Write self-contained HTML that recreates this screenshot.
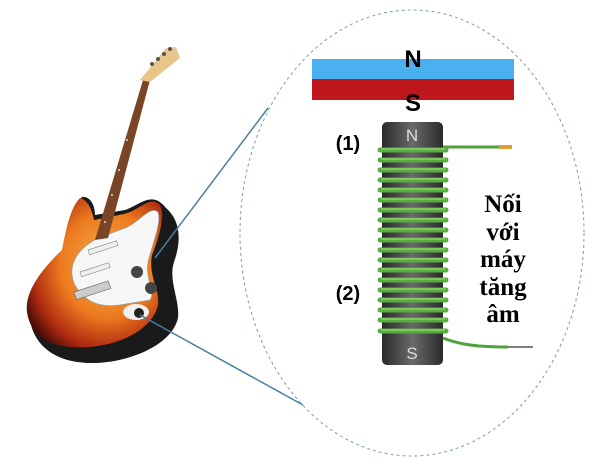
<!DOCTYPE html>
<html><head><meta charset="utf-8"><style>
body{margin:0;background:#fff;width:604px;height:468px;overflow:hidden}
</style></head><body>
<svg width="604" height="468" viewBox="0 0 604 468" xmlns="http://www.w3.org/2000/svg">
<defs>
<radialGradient id="burst" cx="0.6" cy="0.45" r="0.7">
<stop offset="0" stop-color="#f7b24a"/><stop offset="0.5" stop-color="#ec7a1f"/><stop offset="0.8" stop-color="#b02a10"/><stop offset="1" stop-color="#3a0a05"/>
</radialGradient>
<linearGradient id="core" x1="0" x2="1"><stop offset="0" stop-color="#2a2a2a"/><stop offset="0.5" stop-color="#6a6a6a"/><stop offset="1" stop-color="#2a2a2a"/></linearGradient>
</defs>
<ellipse cx="412" cy="233" rx="172" ry="223" fill="none" stroke="#7a9cb0" stroke-width="1" stroke-dasharray="3,3"/>
<path d="M30 320 C26 295 50 270 66 255 C70 232 72 210 82 197 C90 196 95 205 95 215 L125 210 C140 205 152 190 166 208 C180 220 182 240 174 262 C168 280 180 300 178 318 C172 345 130 362 95 363 C55 364 34 345 30 320Z" fill="#1a1a1a"/>
<path d="M27 312 C24 290 46 265 62 250 C66 230 70 208 80 198 C88 200 92 210 94 220 L124 214 C140 210 150 195 160 205 C165 215 160 235 152 255 C148 275 160 290 158 305 C152 330 120 345 88 347 C50 350 30 335 27 312Z" fill="url(#burst)"/>
<path d="M72 275 C70 258 84 245 98 238 L125 228 C140 222 150 205 158 212 C162 222 152 245 148 262 C145 280 156 292 150 300 L120 305 C100 308 88 302 80 292 C75 287 73 282 72 275Z" fill="#f6f6f6" stroke="#999" stroke-width="0.7"/>
<rect x="74" y="292" width="36" height="8" fill="#ccc" stroke="#666" stroke-width="0.6" transform="rotate(-18 74 292)"/>
<rect x="88" y="250" width="30" height="5" fill="#eee" stroke="#888" stroke-width="0.6" transform="rotate(-18 88 250)"/>
<rect x="80" y="272" width="30" height="5" fill="#eee" stroke="#888" stroke-width="0.6" transform="rotate(-18 80 272)"/>
<circle cx="137" cy="272" r="6" fill="#444"/><circle cx="151" cy="288" r="6" fill="#444"/>
<ellipse cx="136" cy="312" rx="13" ry="8" fill="#f0f0f0"/><circle cx="139" cy="313" r="5" fill="#222"/>
<polygon points="95,240 108,238 150,80 143,80" fill="#7a4526"/>
<g fill="#ddd"><circle cx="105" cy="222" r="1"/><circle cx="112" cy="195" r="1"/><circle cx="119" cy="170" r="1"/><circle cx="127" cy="140" r="1"/></g>
<polygon points="140,80 150,82 180,58 176,47 166,48" fill="#e8c58a"/>
<g fill="#555"><circle cx="152" cy="64" r="2"/><circle cx="158" cy="59" r="2"/><circle cx="164" cy="54" r="2"/><circle cx="170" cy="49" r="2"/></g>
<line x1="268" y1="108" x2="155" y2="258" stroke="#4a7f9c" stroke-width="1.5"/>
<line x1="140" y1="315" x2="303" y2="405" stroke="#4a7f9c" stroke-width="1.5"/>
<rect x="312" y="59" width="202" height="20" fill="#4ab0ef"/>
<rect x="312" y="79" width="202" height="21" fill="#c0171f"/>
<text x="413" y="67" font-family="Liberation Sans,sans-serif" font-weight="bold" font-size="24" text-anchor="middle">N</text>
<text x="413" y="111" font-family="Liberation Sans,sans-serif" font-weight="bold" font-size="24" text-anchor="middle">S</text>
<rect x="382" y="122" width="61" height="243" rx="5" fill="url(#core)"/>
<text x="412" y="141" font-family="Liberation Sans,sans-serif" font-size="17" fill="#ddd" text-anchor="middle">N</text>
<text x="412" y="359" font-family="Liberation Sans,sans-serif" font-size="17" fill="#ddd" text-anchor="middle">S</text>
<line x1="443" y1="147" x2="500" y2="147" stroke="#4fa23a" stroke-width="3"/>
<line x1="499" y1="147" x2="512" y2="147" stroke="#e0a030" stroke-width="4"/>
<path d="M443 338 C460 345 480 347 508 347" fill="none" stroke="#4fa23a" stroke-width="3"/>
<line x1="508" y1="347" x2="533" y2="347" stroke="#555" stroke-width="1.5"/>
<g stroke="#58ad40" stroke-width="5" fill="none" stroke-linecap="round">
<path d="M380 150 L446 150"/><path d="M380 160 L446 160"/><path d="M380 170 L446 170"/><path d="M380 180 L446 180"/><path d="M380 190 L446 190"/><path d="M380 200 L446 200"/><path d="M380 210 L446 210"/><path d="M380 220 L446 220"/><path d="M380 230 L446 230"/><path d="M380 240 L446 240"/><path d="M380 250 L446 250"/><path d="M380 260 L446 260"/><path d="M380 270 L446 270"/><path d="M380 280 L446 280"/><path d="M380 290 L446 290"/><path d="M380 300 L446 300"/><path d="M380 310 L446 310"/><path d="M380 320 L446 320"/><path d="M380 331 L446 331"/>
</g>
<g stroke="#a6e07a" stroke-width="1" fill="none">
<path d="M381 149 L445 149"/><path d="M381 159 L445 159"/><path d="M381 169 L445 169"/><path d="M381 179 L445 179"/><path d="M381 189 L445 189"/><path d="M381 199 L445 199"/><path d="M381 209 L445 209"/><path d="M381 219 L445 219"/><path d="M381 229 L445 229"/><path d="M381 239 L445 239"/><path d="M381 249 L445 249"/><path d="M381 259 L445 259"/><path d="M381 269 L445 269"/><path d="M381 279 L445 279"/><path d="M381 289 L445 289"/><path d="M381 299 L445 299"/><path d="M381 309 L445 309"/><path d="M381 319 L445 319"/><path d="M381 330 L445 330"/>
</g>
<text x="348" y="150" font-family="Liberation Sans,sans-serif" font-weight="bold" font-size="20" text-anchor="middle">(1)</text>
<text x="348" y="300" font-family="Liberation Sans,sans-serif" font-weight="bold" font-size="20" text-anchor="middle">(2)</text>
<g font-family="Liberation Serif,serif" font-weight="bold" font-size="25" text-anchor="middle">
<text x="503" y="212">Nối</text>
<text x="503" y="240">với</text>
<text x="503" y="267">máy</text>
<text x="503" y="295">tăng</text>
<text x="503" y="322">âm</text>
</g>
</svg>
</body></html>
